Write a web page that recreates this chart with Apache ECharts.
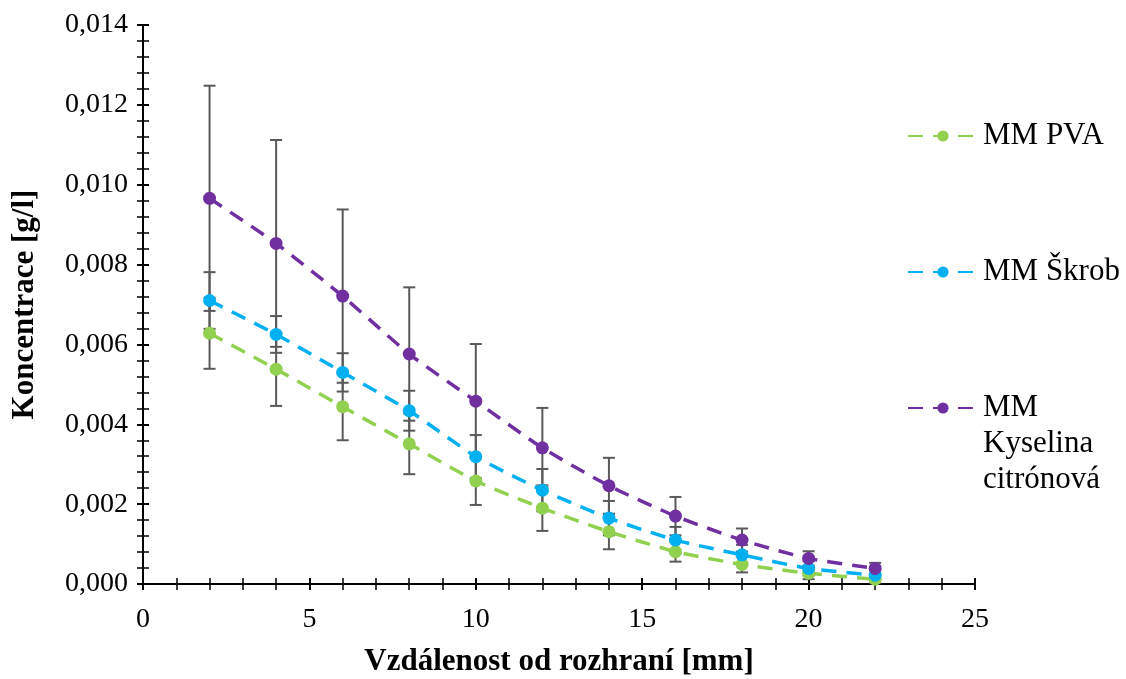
<!DOCTYPE html>
<html>
<head>
<meta charset="utf-8">
<script src="https://cdn.jsdelivr.net/npm/echarts@6/dist/echarts.min.js"></script>
<style>
html,body{margin:0;padding:0;background:#fff;}
#chart{width:1126px;height:679px;}
</style>
</head>
<body>
<div id="chart"></div>
<script>
const xValues = [2, 4, 6, 8, 10, 12, 14, 16, 18, 20, 22];
const seriesNames = ['MM PVA', 'MM Škrob', 'MM Kyselina citrónová'];
const pva = [0.00628, 0.00538, 0.00444, 0.00351, 0.00258, 0.00190, 0.00131, 0.00081, 0.00049, 0.00027, 0.00012];
const pvaErr = [0.00089, 0.00092, 0.00084, 0.00076, 0.00060, 0.00057, 0.00044, 0.00025, 0.00020, 0.00015, 0.00010];
const skrob = [0.00710, 0.00625, 0.00530, 0.00434, 0.00319, 0.00235, 0.00165, 0.00110, 0.00073, 0.00039, 0.00022];
const skrobErr = [0.00071, 0.00046, 0.00048, 0.00050, 0.00054, 0.00053, 0.00043, 0.00033, 0.00025, 0.00018, 0.00012];
const kys = [0.00966, 0.00853, 0.00721, 0.00576, 0.00458, 0.00341, 0.00246, 0.00170, 0.00110, 0.00064, 0.00039];
const kysErr = [0.00282, 0.00259, 0.00217, 0.00167, 0.00143, 0.00100, 0.00070, 0.00048, 0.00029, 0.00018, 0.00014];
const xAxisTitle = 'Vzdálenost od rozhraní [mm]';
const yAxisTitle = 'Koncentrace [g/l]';

const colors = ['#92D050', '#00B0F0', '#7030A0'];
const values = [pva, skrob, kys];
const FONT = '"Liberation Serif", "Times New Roman", serif';

const chart = echarts.init(document.getElementById('chart'));

function errorSeries(vals, errs) {
  return {
    type: 'custom',
    xAxisIndex: 0, yAxisIndex: 0,
    z: 1,
    silent: true,
    data: xValues.map((x, i) => [x, vals[i] - errs[i], vals[i] + errs[i]]),
    renderItem: function (params, api) {
      const lo = api.coord([api.value(0), api.value(1)]);
      const hi = api.coord([api.value(0), api.value(2)]);
      const w = 6;
      const st = { stroke: '#595959', lineWidth: 2 };
      return {
        type: 'group',
        children: [
          { type: 'line', shape: { x1: lo[0], y1: lo[1], x2: hi[0], y2: hi[1] }, style: st },
          { type: 'line', shape: { x1: lo[0] - w, y1: lo[1], x2: lo[0] + w, y2: lo[1] }, style: st },
          { type: 'line', shape: { x1: hi[0] - w, y1: hi[1], x2: hi[0] + w, y2: hi[1] }, style: st }
        ]
      };
    }
  };
}

function lineSeries(k) {
  return {
    name: seriesNames[k],
    type: 'line',
    xAxisIndex: 0, yAxisIndex: 0,
    z: 3 + k,
    smooth: 0.2,
    symbol: 'circle',
    symbolSize: 13,
    color: colors[k],
    itemStyle: { color: colors[k] },
    lineStyle: { color: colors[k], width: 3.5, type: [15, 10] },
    data: xValues.map((x, i) => [x, values[k][i]])
  };
}

const grid = { left: 143, right: 151, top: 25, bottom: 95, containLabel: false, outerBoundsMode: 'none' };

const baseX = {
  type: 'value', min: 0, max: 25, interval: 5,
  splitLine: { show: false },
  minorSplitLine: { show: false }
};
const baseY = {
  type: 'value', min: 0, max: 0.014, interval: 0.002,
  splitLine: { show: false },
  minorSplitLine: { show: false }
};

const legendText = { fontFamily: FONT, fontSize: 31, color: '#000', lineHeight: 36 };
const legendCommon = {
  orient: 'vertical', left: 907, padding: 0,
  itemWidth: 70, itemHeight: 14, itemGap: 0, textStyle: legendText
};

const option = {
  animation: false,
  backgroundColor: '#fff',
  grid: grid,
  xAxis: [
    Object.assign({}, baseX, {
      position: 'bottom',
      name: xAxisTitle,
      nameLocation: 'middle',
      nameGap: 62,
      nameTextStyle: { fontFamily: FONT, fontSize: 31, fontWeight: 'bold', color: '#000' },
      axisLine: { show: true, onZero: false, lineStyle: { color: '#000', width: 2 } },
      axisTick: { show: true, inside: false, length: 6, lineStyle: { color: '#000', width: 2 } },
      minorTick: { show: true, splitNumber: 5, length: 6, lineStyle: { color: '#000', width: 1.5 } },
      axisLabel: { fontFamily: FONT, fontSize: 28, color: '#000', margin: 22 }
    }),
    Object.assign({}, baseX, {
      position: 'bottom',
      axisLine: { show: false, onZero: false },
      axisTick: { show: true, inside: true, length: 6, lineStyle: { color: '#000', width: 2 } },
      minorTick: { show: true, splitNumber: 5, length: 6, lineStyle: { color: '#000', width: 1.5 } },
      axisLabel: { show: false }
    })
  ],
  yAxis: [
    Object.assign({}, baseY, {
      position: 'left',
      name: yAxisTitle,
      nameLocation: 'middle',
      nameGap: 103,
      nameRotate: 90,
      nameTextStyle: { fontFamily: FONT, fontSize: 31, fontWeight: 'bold', color: '#000' },
      axisLine: { show: true, onZero: false, lineStyle: { color: '#000', width: 2 } },
      axisTick: { show: true, inside: false, length: 6, lineStyle: { color: '#000', width: 2 } },
      minorTick: { show: true, splitNumber: 5, length: 6, lineStyle: { color: '#000', width: 1.5 } },
      axisLabel: {
        fontFamily: FONT, fontSize: 28, color: '#000', margin: 15,
        formatter: v => v.toFixed(3).replace('.', ',')
      }
    }),
    Object.assign({}, baseY, {
      position: 'left',
      axisLine: { show: false, onZero: false },
      axisTick: { show: true, inside: true, length: 6, lineStyle: { color: '#000', width: 2 } },
      minorTick: { show: true, splitNumber: 5, length: 6, lineStyle: { color: '#000', width: 1.5 } },
      axisLabel: { show: false }
    })
  ],
  legend: [
    Object.assign({}, legendCommon, { data: [seriesNames[0]], top: 118 }),
    Object.assign({}, legendCommon, { data: [seriesNames[1]], top: 254 }),
    Object.assign({}, legendCommon, {
      data: [seriesNames[2]], top: 318,
      formatter: function () { return '\n\nMM\nKyselina\ncitrónová'; }
    })
  ],
  series: [
    errorSeries(pva, pvaErr),
    errorSeries(skrob, skrobErr),
    errorSeries(kys, kysErr),
    lineSeries(0),
    lineSeries(1),
    lineSeries(2)
  ]
};

chart.setOption(option);
</script>
</body>
</html>
